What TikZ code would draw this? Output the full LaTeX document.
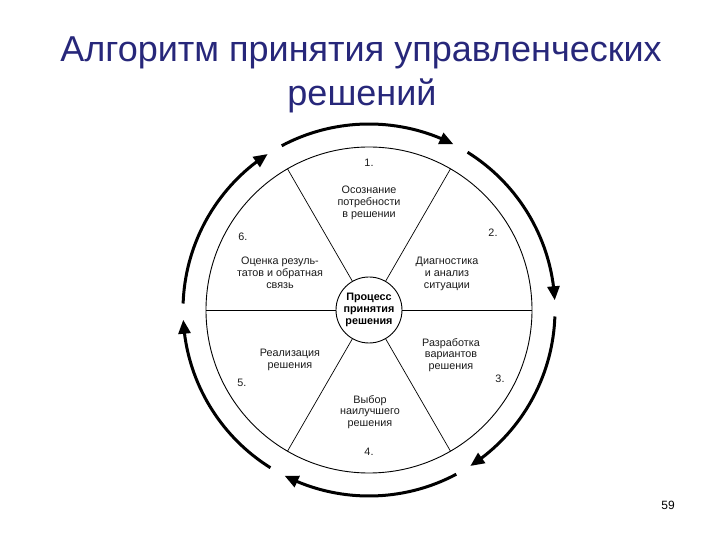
\documentclass[tikz,border=0pt]{standalone}
\usepackage{fontspec}
\setmainfont{Liberation Sans}
\usepackage{tikz}
\usetikzlibrary{arrows.meta,bending}
\definecolor{titleblue}{HTML}{27277A}
\definecolor{inkgray}{HTML}{1A1A1A}

\begin{document}
\begin{tikzpicture}[x=1pt,y=1pt,
  stage/.style={font=\fontsize{10.8}{11.8}\selectfont, align=center, text=inkgray},
  stagenum/.style={font=\fontsize{10.8}{11.8}\selectfont, text=inkgray},
  cyclearc/.style={line width=3pt, -{Triangle[length=14pt,width=12pt]}}]
\useasboundingbox (-369,-230) rectangle (351,310);
% Title
\node[titleblue, font=\fontsize{36}{40}\selectfont, anchor=base] (title1) at (-8,248) {Алгоритм принятия управленческих};
\node[titleblue, font=\fontsize{36}{40}\selectfont, anchor=base] (title2) at (-7,204) {решений};
% Wheel
\draw[line width=0.9pt] (0,0) circle (163);
\node[circle, draw, line width=0.9pt, minimum size=66pt, inner sep=0pt, fill=white, font=\bfseries\fontsize{10.8}{11.8}\selectfont, align=center] (core) at (0,0) {Процесс\\принятия\\решения};
\foreach \a in {0,60,...,300} {
  \coordinate (rim\a) at (\a:163);
  \draw[line width=0.7pt] (core.\a) -- (rim\a);
}
% Outer cycle arrows (clockwise)
\foreach \a in {90,30,-30,-90,-150,150}
  \draw[cyclearc] ({\a+28}:186) arc[start angle={\a+28}, end angle={\a-27}, radius=186];
% Stage numbers
\node[stagenum] (n1) at (0,147) {1.};
\node[stagenum] (n2) at (124,77) {2.};
\node[stagenum] (n3) at (131,-69) {3.};
\node[stagenum] (n4) at (0,-142) {4.};
\node[stagenum] (n5) at (-127,-73) {5.};
\node[stagenum] (n6) at (-126,73) {6.};
% Stage labels
\node[stage] (need) at (0,107) {Осознание\\потребности\\в решении};
\node[stage] (diag) at (78,36) {Диагностика\\и анализ\\ситуации};
\node[stage] (draft) at (82,-45) {Разработка\\вариантов\\решения};
\node[stage] (pick) at (1,-102) {Выбор\\наилучшего\\решения};
\node[stage] (apply) at (-79,-50) {Реализация\\решения};
\node[stage] (review) at (-89,37) {Оценка резуль-\\татов и обратная\\связь};
% Page number
\node[font=\fontsize{12}{14}\selectfont] (page) at (299,-195) {59};
\end{tikzpicture}
\end{document}
